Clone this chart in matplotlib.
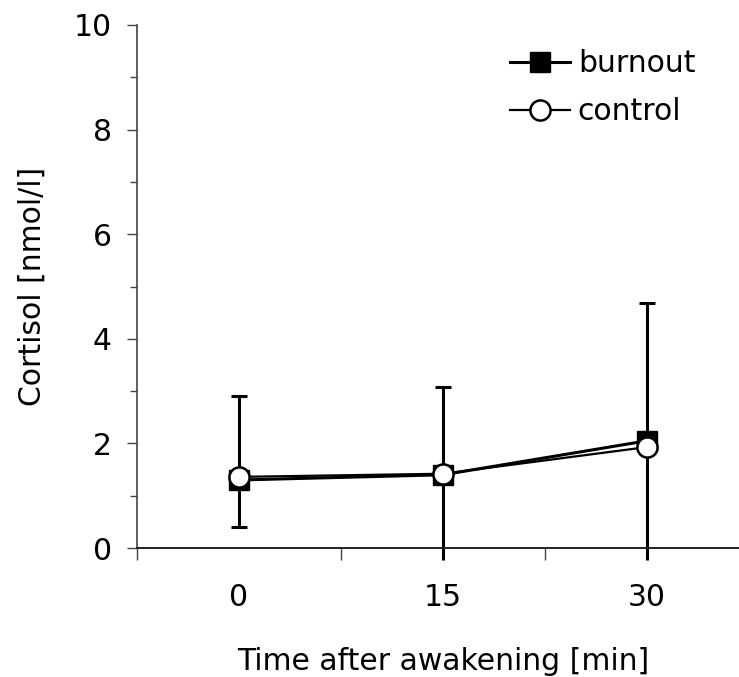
import matplotlib
matplotlib.use("Agg")
import matplotlib.pyplot as plt
import numpy as np

plt.rcParams['font.family'] = ['DejaVu Sans']

categories = ["0", "15", "30"]
burnout = [1.30, 1.40, 2.05]
control = [1.36, 1.42, 1.93]
burnout_err_up = [1.60, 1.68, 2.63]
control_err_down = [0.96, 1.64, 2.15]
y_ticks = [0, 2, 4, 6, 8, 10]

W, H = 739, 677
fig = plt.figure(figsize=(W / 100, H / 100), dpi=100)
ax_left, ax_right, ax_bot, ax_top = 137, 749, 548, 25
ax = fig.add_axes([ax_left / W, 1 - ax_bot / H, (ax_right - ax_left) / W, (ax_bot - ax_top) / H])

x = np.arange(len(categories))
fs = 21.5

# error bars
eb1 = ax.errorbar(x, burnout, yerr=[np.zeros(3), burnout_err_up], fmt='none', ecolor='black',
                  elinewidth=2.2, capsize=6, capthick=2.2, zorder=2)
eb2 = ax.errorbar(x, control, yerr=[control_err_down, np.zeros(3)], fmt='none', ecolor='black',
                  elinewidth=2.2, capsize=6, capthick=2.2, zorder=2)
for eb in (eb1, eb2):
    for art in eb.lines[2]:
        art.set_clip_on(False)
    for c in eb.lines[1]:
        c.set_clip_on(True)  # caps below zero are clipped like the original

l1, = ax.plot(x, burnout, color='black', lw=2.2, marker='s', markersize=14.5,
              markerfacecolor='black', markeredgecolor='black', zorder=3, clip_on=False)
l2, = ax.plot(x, control, color='black', lw=1.6, marker='o', markersize=14.5,
              markerfacecolor='white', markeredgecolor='black', markeredgewidth=1.8, zorder=4, clip_on=False)

ax.set_xlim(-0.5, 2.5)
ax.set_ylim(0, 10)
ax.set_yticks(y_ticks)
ax.set_yticks([1, 3, 5, 7, 9], minor=True)
ax.set_xticks(x)
ax.set_xticklabels(categories)
ax.set_xticks([-0.5, 0.5, 1.5, 2.5], minor=True)

for s in ['top', 'right']:
    ax.spines[s].set_visible(False)
ax.spines['left'].set_color('#444444')
ax.spines['left'].set_linewidth(1.2)
ax.spines['bottom'].set_color('#222222')
ax.spines['bottom'].set_linewidth(1.4)

ax.tick_params(axis='y', which='major', length=7.2, width=1.0, color='#444444', labelsize=fs, pad=10.8)
ax.tick_params(axis='y', which='minor', length=5, width=1.0, color='#444444')
ax.tick_params(axis='x', which='major', length=0, labelsize=fs, pad=25)
ax.tick_params(axis='x', which='minor', length=8.5, width=1.0, color='#444444')

ax.set_ylabel("Cortisol [nmol/l]", fontsize=fs)
ax.set_xlabel("Time after awakening [min]", fontsize=fs)
ax.yaxis.set_label_coords((47 - ax_left) / (ax_right - ax_left), 0.5)
ax.xaxis.set_label_coords(0.5, (ax_bot - 647) / (ax_bot - ax_top))

leg = ax.legend([l1, l2], ["burnout", "control"], loc='upper left',
                bbox_to_anchor=(510 / W, 1 - 49 / H), bbox_transform=fig.transFigure,
                frameon=False, fontsize=fs, borderpad=0, borderaxespad=0,
                handlelength=2.0, handletextpad=0.27, labelspacing=0.65, markerscale=1.0)

fig.savefig("out.png", dpi=100)
